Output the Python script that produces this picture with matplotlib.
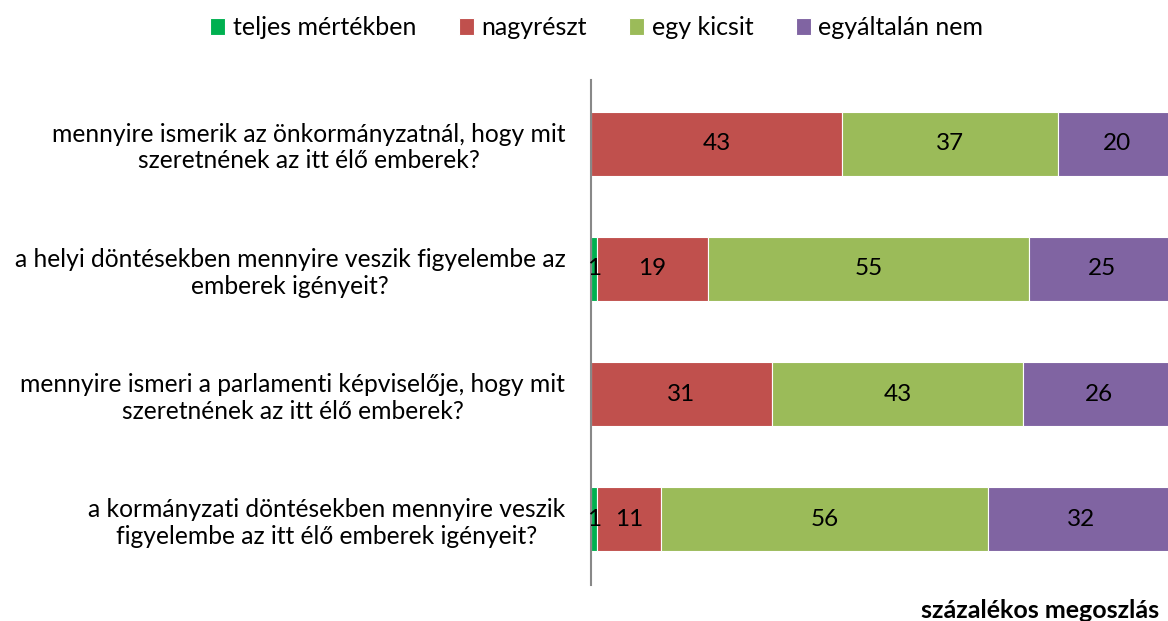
import matplotlib
matplotlib.use("Agg")
import matplotlib.pyplot as plt
import numpy as np

plt.rcParams['font.family'] = ['Lato', 'DejaVu Sans']

categories = [
    "mennyire ismerik az önkormányzatnál, hogy mit\nszeretnének az itt élő emberek?",
    "a helyi döntésekben mennyire veszik figyelembe az\nemberek igényeit?",
    "mennyire ismeri a parlamenti képviselője, hogy mit\nszeretnének az itt élő emberek?",
    "a kormányzati döntésekben mennyire veszik\nfigyelembe az itt élő emberek igényeit?",
]
series_names = ["teljes mértékben", "nagyrészt", "egy kicsit", "egyáltalán nem"]
teljes = [0, 1, 0, 1]
nagyreszt = [43, 19, 31, 11]
kicsit = [37, 55, 43, 56]
egyaltalan = [20, 25, 26, 32]
colors = ["#00B050", "#C0504D", "#9BBB59", "#8064A2"]

fig = plt.figure(figsize=(11.68, 6.21), dpi=100)
ax = fig.add_axes([591/1168, 1-582/621, 584/1168, 501/621])

y = np.arange(len(categories))
left = np.zeros(len(categories))
for name, vals, col in zip(series_names, [teljes, nagyreszt, kicsit, egyaltalan], colors):
    vals = np.array(vals, dtype=float)
    ax.barh(y, vals, left=left, height=0.51, color=col, label=name,
            edgecolor='white', linewidth=0.8)
    for yi, (l, v) in enumerate(zip(left, vals)):
        if v > 0:
            ax.text(l + v/2, yi, f"{int(v)}", ha='center', va='center',
                    fontsize=17.5, color='black')
    left += vals

ax.set_xlim(0, 100)
ax.set_ylim(3.5, -0.5)
ax.set_yticks(y)
ax.set_yticklabels(categories, fontsize=17.7, multialignment='center')
ax.tick_params(axis='y', length=0, pad=18.5)
ax.set_xticks([])
for s in ['top', 'right', 'bottom']:
    ax.spines[s].set_visible(False)
ax.spines['left'].set_color('#888888')
ax.spines['left'].set_linewidth(1.5)
ax.spines['left'].set_bounds(3.52, -0.51)

fig.legend(loc='upper center', bbox_to_anchor=(0.511, 1.01), ncol=4,
           frameon=False, fontsize=18, handlelength=0.6, handleheight=0.7,
           handletextpad=0.3, columnspacing=1.7)

fig.text(1159/1168, 1-610/621, "százalékos megoszlás", ha='right', va='center',
         fontsize=18, fontweight='bold')

fig.savefig("out.png", dpi=100)
